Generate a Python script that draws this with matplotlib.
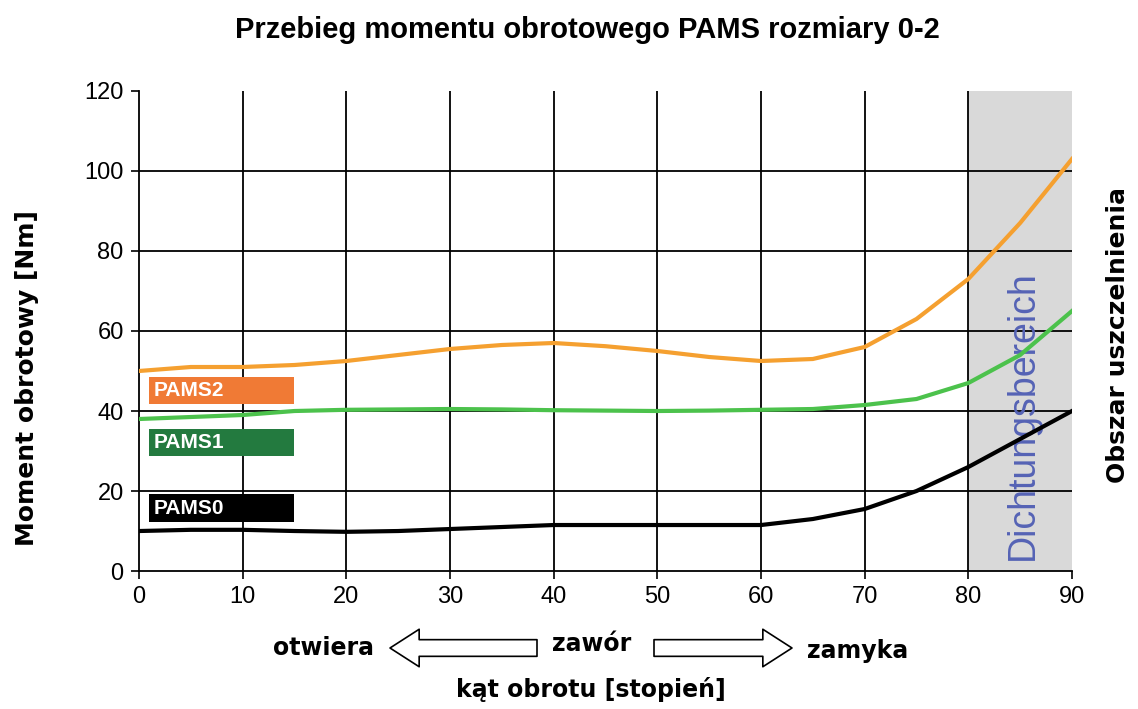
import matplotlib.pyplot as plt

kat = [0, 5, 10, 15, 20, 25, 30, 35, 40, 45, 50, 55, 60, 65, 70, 75, 80, 85, 90]
pams2 = [50, 51, 51, 51.5, 52.5, 54, 55.5, 56.5, 57, 56.2, 55, 53.5, 52.5, 53, 56, 63, 73, 87, 103]
pams1 = [38, 38.5, 39, 40, 40.3, 40.4, 40.5, 40.4, 40.2, 40.1, 40, 40.1, 40.3, 40.5, 41.5, 43, 47, 54, 65]
pams0 = [10, 10.3, 10.3, 10, 9.8, 10, 10.5, 11, 11.5, 11.5, 11.5, 11.5, 11.5, 13, 15.5, 20, 26, 33, 40]

nazwy = ["PAMS2", "PAMS1", "PAMS0"]
kolory_linii = ["#f5a030", "#4cc24c", "black"]
kolory_etykiet = ["#f07a35", "#237a3f", "black"]
etykiety_y = [(41.75, 48.5), (28.75, 35.5), (12.25, 19.25)]

plt.rcParams['font.family'] = ['DejaVu Sans']
fig = plt.figure(figsize=(11.38, 7.09), dpi=100)
ax = fig.add_axes([0.1221, 0.1946, 0.8199, 0.6771])

ax.axvspan(80, 90, color="#d9d9d9", zorder=0)
for x in range(10, 90, 10):
    ax.axvline(x, color="black", lw=1.3, zorder=1)
for y in range(20, 120, 20):
    ax.axhline(y, color="black", lw=1.3, zorder=1)

for dane, k in zip([pams2, pams1, pams0], kolory_linii):
    ax.plot(kat, dane, color=k, lw=3, zorder=3, solid_joinstyle="round")

for n, k, (y0, y1) in zip(nazwy, kolory_etykiet, etykiety_y):
    ax.fill_between([1, 15], y0, y1, color=k, zorder=4, lw=0)
    ax.text(1.4, (y0 + y1) / 2, n, color="white", fontsize=15, fontweight="bold",
            va="center", ha="left", zorder=5, family="Liberation Sans")

ax.text(85.3, 39, "Dichtungsbereich", rotation=90, color="#5563b5", fontsize=27,
        ha="center", va="center", family="Liberation Sans", zorder=2)

ax.set_xlim(0, 90)
ax.set_ylim(0, 120)
ax.set_xticks(range(0, 91, 10))
ax.set_yticks(range(0, 121, 20))
ax.tick_params(labelsize=17, length=6, width=1.2, direction="out", pad=5)
for lab in ax.get_xticklabels() + ax.get_yticklabels():
    lab.set_family("Liberation Sans")
for s in ["top", "right"]:
    ax.spines[s].set_visible(False)
ax.spines["left"].set_linewidth(1.3)
ax.spines["bottom"].set_linewidth(1.3)

fig.text(27 / 1138, 1 - 378 / 709, "Moment obrotowy [Nm]", rotation=90, fontsize=18,
         fontweight="bold", ha="center", va="center")
fig.text(1118 / 1138, 1 - 335 / 709, "Obszar uszczelnienia", rotation=90, fontsize=18,
         fontweight="bold", ha="center", va="center")

fig.text(587 / 1138, 1 - 30 / 709, "Przebieg momentu obrotowego PAMS rozmiary 0-2",
         fontsize=21, fontweight="bold", ha="center", va="center",
         family=["Liberation Sans Narrow", "Liberation Sans"])

# strzałki pod osią
styl = "simple,head_length=1.4,head_width=1.8,tail_width=0.8"
ax.annotate("", xy=(390, 61), xytext=(537, 61), xycoords="figure pixels",
            arrowprops=dict(arrowstyle=styl, fc="white", ec="black", lw=1.2,
                            mutation_scale=15, shrinkA=0, shrinkB=0))
ax.annotate("", xy=(792, 61), xytext=(654, 61), xycoords="figure pixels",
            arrowprops=dict(arrowstyle=styl, fc="white", ec="black", lw=1.2,
                            mutation_scale=15, shrinkA=0, shrinkB=0))
fig.text(324 / 1138, 1 - 648 / 709, "otwiera", fontsize=17, fontweight="bold",
         ha="center", va="center")
fig.text(592 / 1138, 1 - 644 / 709, "zawór", fontsize=17, fontweight="bold",
         ha="center", va="center")
fig.text(858 / 1138, 1 - 651 / 709, "zamyka", fontsize=17, fontweight="bold",
         ha="center", va="center")
fig.text(591 / 1138, 1 - 690 / 709, "kąt obrotu [stopień]", fontsize=17,
         fontweight="bold", ha="center", va="center")

fig.savefig("out.png", dpi=100)
